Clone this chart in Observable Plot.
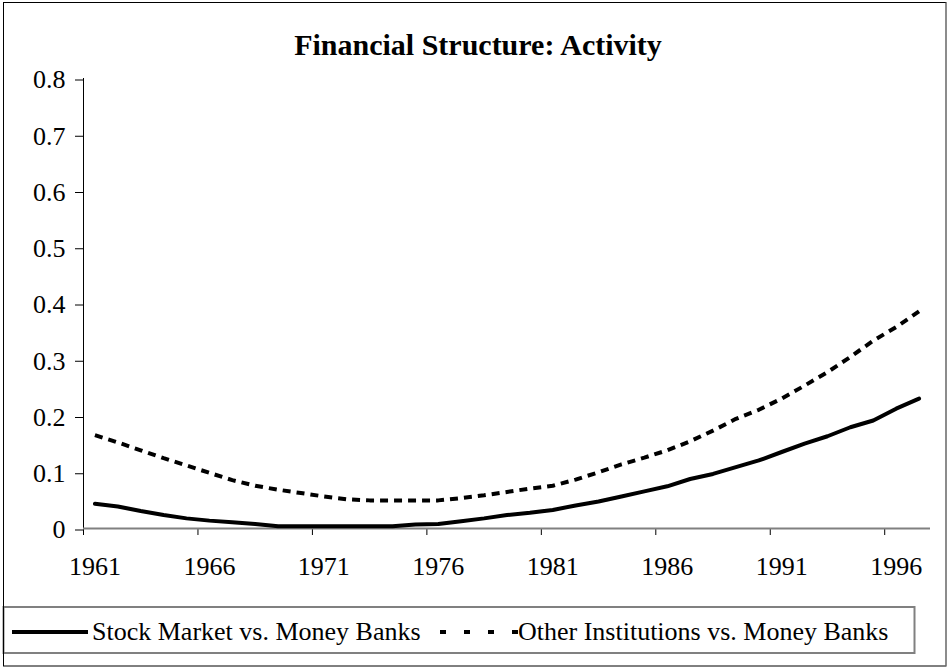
<!DOCTYPE html>
<html>
<head>
<meta charset="utf-8">
<script src="https://cdn.jsdelivr.net/npm/d3@7"></script>
<script src="https://cdn.jsdelivr.net/npm/@observablehq/plot@0.6"></script>
<style>
  html, body { margin: 0; padding: 0; background: #fff; }
  #wrap { position: relative; width: 949px; height: 669px; overflow: hidden; background: #fff; }
  #frame { position: absolute; left: 0; top: 0; }
  #chart { position: absolute; left: 0; top: 0; }
  text { font-family: "Liberation Serif", "Times New Roman", serif; }
</style>
</head>
<body>
<div id="wrap">
  <svg id="frame" width="949" height="669"></svg>
  <div id="chart"></div>
</div>
<script>
const title = "Financial Structure: Activity";
const seriesNames = ["Stock Market vs. Money Banks", "Other Institutions vs. Money Banks"];
const years = [1961,1962,1963,1964,1965,1966,1967,1968,1969,1970,
               1971,1972,1973,1974,1975,1976,1977,1978,1979,1980,
               1981,1982,1983,1984,1985,1986,1987,1988,1989,1990,
               1991,1992,1993,1994,1995,1996,1997];
const stockMarket = [0.044,0.039,0.031,0.024,0.018,0.014,0.011,0.008,0.004,0.004,
                     0.004,0.004,0.004,0.004,0.007,0.008,0.013,0.018,0.024,0.028,
                     0.033,0.041,0.048,0.057,0.066,0.075,0.088,0.097,0.109,0.121,
                     0.136,0.151,0.164,0.180,0.192,0.213,0.231];
const otherInstitutions = [0.166,0.153,0.139,0.125,0.112,0.099,0.086,0.076,0.069,0.063,
                           0.057,0.052,0.050,0.050,0.050,0.050,0.054,0.059,0.065,0.071,
                           0.076,0.087,0.100,0.114,0.126,0.139,0.155,0.174,0.195,0.211,
                           0.231,0.254,0.278,0.305,0.334,0.358,0.386];
const yTicks = [0, 0.1, 0.2, 0.3, 0.4, 0.5, 0.6, 0.7, 0.8];
const xTickLabels = [1961, 1966, 1971, 1976, 1981, 1986, 1991, 1996];

const fontFam = "'Liberation Serif', 'Times New Roman', serif";
const xDomain = [years[0] - 0.5, years[years.length - 1] + 0.5];
const xTickMarks = xTickLabels.map(d => d - 0.5);

const chart = Plot.plot({
  width: 949,
  height: 600,
  marginLeft: 83,
  marginRight: 19,
  marginTop: 78,
  marginBottom: 72,
  style: { fontFamily: fontFam, fontSize: "26px", background: "transparent", color: "#000", overflow: "visible" },
  x: { domain: xDomain, axis: null },
  y: { domain: [0, 0.8], axis: null },
  marks: [
    Plot.axisY({ ticks: yTicks, tickSize: 8, tickPadding: 10, fontSize: 26,
                 tickFormat: d => d === 0 ? "0" : d3.format(".1f")(d), stroke: "#000", dy: 1.5 }),
    Plot.axisX({ ticks: xTickMarks, tickSize: 7, tickFormat: () => "", stroke: "#000" }),
    Plot.axisX({ ticks: xTickLabels, tickSize: 0, tickPadding: 28, fontSize: 26,
                 tickFormat: d => String(d) }),
    Plot.ruleX([xDomain[0]], { stroke: "#000", strokeWidth: 1 }),
    Plot.ruleY([0], { stroke: "#808080", strokeWidth: 2 }),
    Plot.lineY(otherInstitutions, { x: years, stroke: "#000", strokeWidth: 4,
                                    strokeDasharray: "8,6", strokeLinecap: "butt" }),
    Plot.lineY(stockMarket, { x: years, stroke: "#000", strokeWidth: 4 })
  ]
});
document.getElementById("chart").appendChild(chart);

// Frame, title and legend (non-data decorations)
const svg = d3.select("#frame");
svg.append("rect").attr("x", 3.5).attr("y", 2.5).attr("width", 942.5).attr("height", 663.5)
  .attr("fill", "#fff").attr("stroke", "#000").attr("stroke-width", 1);
svg.append("line").attr("x1", 946).attr("x2", 946).attr("y1", 2.5).attr("y2", 666)
  .attr("stroke", "#999").attr("stroke-width", 1);
svg.append("text").attr("x", 478).attr("y", 55).attr("text-anchor", "middle")
  .attr("font-weight", "bold").attr("font-size", 30).text(title);

const lg = svg.append("g");
lg.append("rect").attr("x", 3.5).attr("y", 607).attr("width", 911).attr("height", 46)
  .attr("fill", "none").attr("stroke", "#808080").attr("stroke-width", 2);
lg.append("line").attr("x1", 3.5).attr("x2", 3.5).attr("y1", 606).attr("y2", 654)
  .attr("stroke", "#000").attr("stroke-width", 1);
lg.append("line").attr("x1", 12).attr("x2", 88).attr("y1", 632).attr("y2", 632)
  .attr("stroke", "#000").attr("stroke-width", 4);
lg.append("text").attr("x", 92).attr("y", 640).attr("font-size", 26).text(seriesNames[0]);
lg.append("line").attr("x1", 440).attr("x2", 518).attr("y1", 632).attr("y2", 632)
  .attr("stroke", "#000").attr("stroke-width", 4).attr("stroke-dasharray", "6,18");
lg.append("text").attr("x", 518).attr("y", 640).attr("font-size", 26).text(seriesNames[1]);
</script>
</body>
</html>
